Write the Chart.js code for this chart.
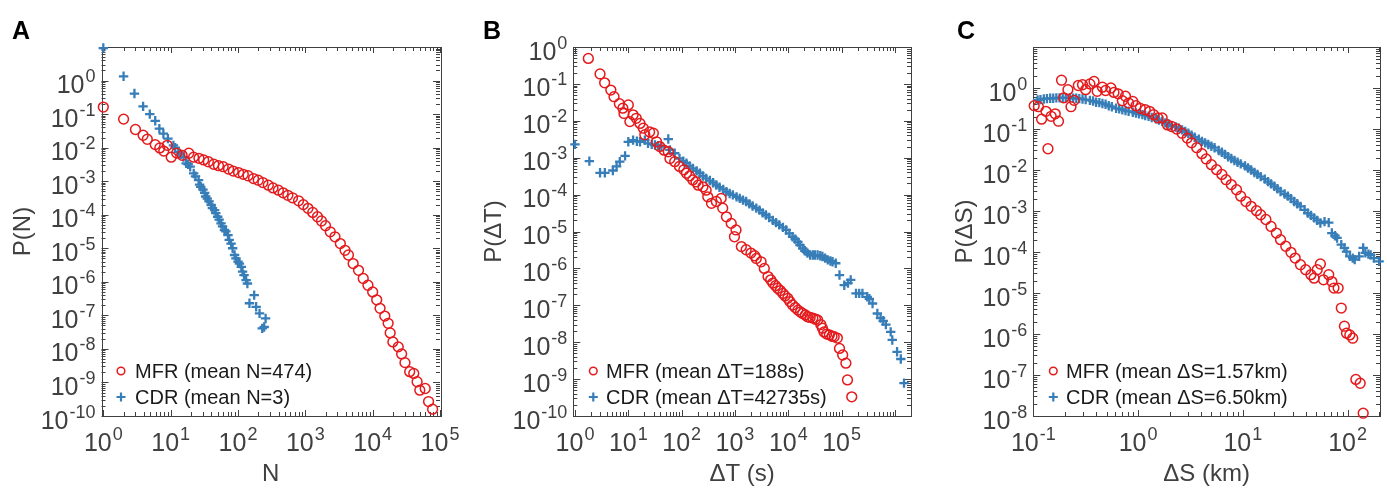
<!DOCTYPE html>
<html><head><meta charset="utf-8">
<script src="https://cdn.jsdelivr.net/npm/chart.js@4.4.0/dist/chart.umd.min.js"></script>
<style>
html,body{margin:0;padding:0;background:#fff;}
#wrap{position:relative;width:1387px;height:489px;overflow:hidden;background:#fff;}
.panel{position:absolute;top:0;height:489px;}
.letter{position:absolute;font:bold 25px "Liberation Sans",Arial,Helvetica,sans-serif;color:#000;line-height:25px;}
</style></head><body>
<div id="wrap">
  <div class="panel" style="left:0;width:460px"><canvas id="cA" width="460" height="489"></canvas></div>
  <div class="panel" style="left:460px;width:460px"><canvas id="cB" width="460" height="489"></canvas></div>
  <div class="panel" style="left:920px;width:467px"><canvas id="cC" width="467" height="489"></canvas></div>
  <div class="letter" style="left:12px;top:18px">A</div>
  <div class="letter" style="left:483px;top:18px">B</div>
  <div class="letter" style="left:957px;top:18px">C</div>
</div>
<script>
// ---------------- DATA ----------------
// Panel A: P(N)
const A_MFR = [[1,0.162],[2.0,0.0708],[3.0,0.0347],[3.9,0.0234],[4.5,0.0178],[5.9,0.0123],[6.9,0.0098],[7.9,0.0079],[8.9,0.0117],[10.2,0.0052],[12.3,0.0069],[14.8,0.0059],[18.6,0.0068],[21.9,0.0052],[26.3,0.0048],[30.9,0.0043],[36.3,0.0038],[43.7,0.0032],[51.3,0.0029],[60.3,0.0027],[72.4,0.0023],[85.1,0.0020],[102,0.0018],[120,0.0016],[141,0.00145],[170,0.0012],[200,0.00107],[234,9.1e-4],[282,7.6e-4],[331,6.3e-4],[398,5.4e-4],[468,4.5e-4],[550,3.8e-4],[646,3.2e-4],[794,2.6e-4],[933,2.0e-4],[1096,1.55e-4],[1288,1.17e-4],[1514,8.7e-5],[1738,6.5e-5],[1995,4.7e-5],[2344,3.1e-5],[2754,2.2e-5],[3311,1.38e-5],[3890,8.7e-6],[4365,6.3e-6],[5129,3.5e-6],[6166,2.2e-6],[7244,1.26e-6],[8511,7.9e-7],[10000,5.0e-7],[11482,2.9e-7],[12882,1.62e-7],[15136,9.5e-8],[16982,5.8e-8],[18197,3.0e-8],[19953,1.62e-8],[23988,1.15e-8],[26915,7.1e-9],[30200,3.9e-9],[35481,2.1e-9],[40738,1.86e-9],[45709,1.05e-9],[50119,5.9e-10],[60256,6.6e-10],[67608,2.7e-10],[77625,1.6e-10]];
const A_CDR = [[1,9.3],[2,1.34],[2.9,0.41],[3.9,0.17],[4.9,0.10],[5.9,0.063],[6.8,0.037],[7.8,0.026],[9.1,0.0186],[11,0.0117],[11.7,0.01],[13,0.0074],[14.1,0.0063],[15.5,0.0052],[17,0.0034],[18.2,0.0032],[19.5,0.0027],[22,0.0017],[23.4,0.0014],[26,0.00107],[26.9,7.9e-4],[28,6.8e-4],[30.2,5.6e-4],[32,4.5e-4],[33.1,3.5e-4],[35,3.0e-4],[37.2,2.5e-4],[40,1.95e-4],[41.7,1.58e-4],[45,1.38e-4],[46.8,1.12e-4],[50,8.7e-5],[52.5,7.1e-5],[56,5.5e-5],[58.9,4.5e-5],[63,3.5e-5],[66.1,3.2e-5],[71,2.45e-5],[74.1,1.78e-5],[79,1.38e-5],[83.2,1.0e-5],[89,6.3e-6],[93.3,5.0e-6],[100,4.0e-6],[105,3.5e-6],[112,2.8e-6],[117,2.0e-6],[123,1.58e-6],[132,1.12e-6],[138,8.9e-7],[148,2.3e-7],[174,4.0e-7],[186,1.8e-7],[209,1.15e-7],[229,4.1e-8],[245,4.5e-8],[257,8.1e-8]];
// Panel B: P(ΔT)
const B_MFR = [[1.78,0.49],[2.95,0.186],[3.6,0.107],[4.7,0.068],[5.4,0.045],[6.8,0.029],[7.9,0.022],[8.3,0.0158],[10,0.027],[10.7,0.0095],[12.3,0.0145],[14.1,0.0117],[16.6,0.0085],[19.1,0.0063],[20.4,0.0042],[25.1,0.0050],[29.5,0.0046],[33.9,0.0027],[38.9,0.0020],[46.8,0.0016],[56.2,0.00145],[60.3,9.5e-4],[74.1,7.8e-4],[91.2,5.8e-4],[110,4.7e-4],[123,3.8e-4],[141,3.2e-4],[162,2.5e-4],[186,2.2e-4],[204,1.8e-4],[251,1.62e-4],[288,1.32e-4],[309,8.7e-5],[363,5.8e-5],[447,6.5e-5],[550,7.9e-5],[589,4.3e-5],[692,2.5e-5],[851,1.66e-5],[977,7.2e-6],[1047,1.1e-5],[1318,3.9e-6],[1622,3.2e-6],[1995,2.6e-6],[2344,2.2e-6],[2512,1.86e-6],[3090,1.51e-6],[3548,1.0e-6],[4169,6.0e-7],[4677,4.9e-7],[5129,4.0e-7],[5754,3.4e-7],[6310,2.9e-7],[7079,2.5e-7],[7943,2.1e-7],[8710,1.8e-7],[9772,1.55e-7],[10715,1.26e-7],[12023,1.02e-7],[13490,8.7e-8],[15136,7.4e-8],[16982,6.6e-8],[18621,6.0e-8],[20893,5.5e-8],[22909,4.9e-8],[25704,4.7e-8],[28840,4.5e-8],[32359,4.2e-8],[35481,4.0e-8],[40738,3.0e-8],[43652,2.4e-8],[46774,1.9e-8],[52481,1.66e-8],[58884,1.58e-8],[66069,1.45e-8],[72444,1.41e-8],[83176,1.29e-8],[91201,6.8e-9],[104713,4.5e-9],[120226,2.7e-9],[128825,9.5e-10],[154882,3.3e-10]];
const B_CDR = [[1,2.3e-3],[1.86,8.1e-4],[2.95,3.9e-4],[3.63,3.9e-4],[5.13,4.5e-4],[6.03,5.8e-4],[6.92,7.8e-4],[8.7,1.12e-3],[10,2.7e-3],[12.3,3.0e-3],[14.5,2.8e-3],[16.6,2.7e-3],[20.4,3.0e-3],[23.4,2.45e-3],[27.5,2.3e-3],[31.6,2.2e-3],[36.3,2.1e-3],[41.7,2.0e-3],[56.2,3.2e-3],[60.3,1.62e-3],[74.1,1.32e-3],[91.2,9.5e-4],[107,8.1e-4],[123,7.1e-4],[141,6.0e-4],[162,5.1e-4],[191,4.4e-4],[219,3.8e-4],[251,3.2e-4],[288,2.75e-4],[339,2.4e-4],[389,2.1e-4],[447,1.82e-4],[513,1.58e-4],[603,1.38e-4],[692,1.2e-4],[794,1.07e-4],[912,9.8e-5],[1072,8.7e-5],[1230,7.9e-5],[1413,7.1e-5],[1622,6.5e-5],[1862,5.6e-5],[2138,4.9e-5],[2512,4.3e-5],[2884,3.8e-5],[3311,3.2e-5],[3802,2.8e-5],[4365,2.4e-5],[5129,2.0e-5],[5888,1.74e-5],[6761,1.51e-5],[7943,1.29e-5],[9120,1.1e-5],[10471,8.9e-6],[12023,7.2e-6],[13490,6.2e-6],[15136,5.2e-6],[16596,4.3e-6],[18621,3.5e-6],[20417,3.0e-6],[22909,2.6e-6],[25704,2.3e-6],[28840,2.3e-6],[31623,2.3e-6],[35481,2.3e-6],[39811,2.2e-6],[43652,2.1e-6],[48978,1.9e-6],[54954,1.7e-6],[61660,1.58e-6],[67608,1.51e-6],[77625,1.38e-6],[91201,6.6e-7],[112202,3.5e-7],[131826,4.0e-7],[147911,4.9e-7],[186209,2.1e-7],[213796,2.1e-7],[245471,2.1e-7],[301995,1.7e-7],[331131,1.5e-7],[380189,1.12e-7],[467735,6.0e-8],[537032,4.5e-8],[602560,3.8e-8],[676083,3.0e-8],[831764,1.9e-8],[891251,1.15e-8],[1096478,5.5e-9],[1288250,3.5e-9],[1479108,7.8e-10]];
// Panel C: P(ΔS)
const C_MFR = [[0.102,0.37],[0.112,0.35],[0.120,0.174],[0.132,0.27],[0.138,0.033],[0.148,0.204],[0.162,0.234],[0.174,0.155],[0.186,1.55],[0.195,0.575],[0.214,0.91],[0.229,0.35],[0.245,0.50],[0.269,1.15],[0.295,1.2],[0.316,0.91],[0.347,1.26],[0.380,1.45],[0.407,0.83],[0.457,1.05],[0.490,0.87],[0.55,1.0],[0.589,0.78],[0.646,0.72],[0.708,0.49],[0.759,0.63],[0.813,0.43],[0.891,0.47],[0.955,0.37],[1.05,0.32],[1.17,0.295],[1.29,0.27],[1.41,0.224],[1.55,0.186],[1.70,0.186],[1.91,0.126],[2.09,0.115],[2.34,0.100],[2.63,0.079],[2.95,0.060],[3.24,0.046],[3.63,0.035],[4.07,0.025],[4.47,0.0186],[5.01,0.0135],[5.62,0.0102],[6.31,0.0078],[6.92,0.0058],[7.76,0.0044],[8.71,0.0033],[9.55,0.0023],[10.7,0.0017],[12.0,0.0013],[13.5,0.00102],[14.8,8.1e-4],[16.6,6.2e-4],[18.6,4.2e-4],[20.9,2.9e-4],[22.9,2.0e-4],[25.7,1.38e-4],[28.8,9.8e-5],[31.6,7.1e-5],[35.5,4.9e-5],[39.8,3.7e-5],[44.7,2.8e-5],[47.9,2.3e-5],[51.3,3.7e-5],[55.0,5.1e-5],[58.9,2.1e-5],[66.1,2.8e-5],[70.8,1.9e-5],[74.1,1.32e-5],[81.3,1.32e-5],[87.1,4.3e-6],[93.3,1.55e-6],[97.7,1.05e-6],[105,9.5e-7],[112,7.9e-7],[120,7.8e-8],[132,6.3e-8],[141,1.17e-8]];
const C_CDR = [[0.110,0.51],[0.117,0.52],[0.126,0.54],[0.135,0.55],[0.145,0.56],[0.155,0.56],[0.166,0.575],[0.178,0.575],[0.191,0.575],[0.204,0.575],[0.224,0.575],[0.240,0.56],[0.257,0.56],[0.275,0.55],[0.295,0.54],[0.316,0.52],[0.347,0.50],[0.372,0.48],[0.398,0.45],[0.427,0.44],[0.457,0.42],[0.490,0.40],[0.525,0.37],[0.562,0.35],[0.617,0.32],[0.661,0.31],[0.708,0.295],[0.759,0.28],[0.813,0.27],[0.891,0.257],[0.955,0.245],[1.02,0.234],[1.10,0.224],[1.17,0.214],[1.26,0.204],[1.35,0.19],[1.48,0.178],[1.58,0.166],[1.70,0.155],[1.82,0.141],[1.95,0.132],[2.09,0.12],[2.29,0.112],[2.45,0.105],[2.63,0.095],[2.82,0.087],[3.02,0.079],[3.24,0.071],[3.47,0.063],[3.80,0.056],[4.07,0.050],[4.37,0.046],[4.68,0.042],[5.01,0.038],[5.37,0.035],[5.89,0.030],[6.31,0.027],[6.76,0.024],[7.24,0.021],[7.76,0.019],[8.32,0.017],[8.91,0.0155],[9.55,0.0141],[10.5,0.0126],[11.2,0.0112],[12.0,0.0100],[12.9,0.0087],[13.8,0.0078],[14.8,0.0069],[16.2,0.0060],[17.4,0.0052],[18.6,0.0046],[20.0,0.0040],[21.4,0.0035],[22.9,0.0030],[25.1,0.0026],[26.9,0.0023],[28.8,0.0020],[30.9,0.0017],[33.1,0.0015],[35.5,0.0013],[38.9,0.00107],[41.7,8.9e-4],[44.7,7.8e-4],[47.9,6.8e-4],[51.3,5.9e-4],[55.0,5.1e-4],[60.3,5.5e-4],[66.1,5.2e-4],[70.8,2.9e-4],[75.9,2.5e-4],[79.4,2.2e-4],[87.1,1.51e-4],[93.3,1.26e-4],[97.7,1.02e-4],[105,7.8e-5],[112,7.1e-5],[117,6.5e-5],[129,7.8e-5],[141,1.26e-4],[148,9.5e-5],[158,8.9e-5],[166,8.5e-5],[178,7.1e-5],[200,5.9e-5]];

// legend labels
const A_LABELS = ['MFR (mean N=474)', 'CDR (mean N=3)'];
const B_LABELS = ['MFR (mean \u0394T=188s)', 'CDR (mean \u0394T=42735s)'];
const C_LABELS = ['MFR (mean \u0394S=1.57km)', 'CDR (mean \u0394S=6.50km)'];
// axis titles
const A_TITLES = ['N', 'P(N)'];
const B_TITLES = ['\u0394T (s)', 'P(\u0394T)'];
const C_TITLES = ['\u0394S (km)', 'P(\u0394S)'];
// labelled decades (tick labels 10^k)
const A_XTICK_EXP = [0,1,2,3,4,5];
const A_YTICK_EXP = [-10,-9,-8,-7,-6,-5,-4,-3,-2,-1,0];
const B_XTICK_EXP = [0,1,2,3,4,5];
const B_YTICK_EXP = [-10,-9,-8,-7,-6,-5,-4,-3,-2,-1,0];
const C_XTICK_EXP = [-1,0,1,2];
const C_YTICK_EXP = [-8,-7,-6,-5,-4,-3,-2,-1,0];

// ---------------- STYLE ----------------
const FONT = '"Liberation Sans", Arial, Helvetica, sans-serif';
const RED = '#e41a1c';
const BLUE = '#377eb8';
const AXIS = '#404040';
const TICKTXT = '#404040';
const MAIN_PX = 25, EXP_PX = 18;

function drawPow(ctx, k, x, y, align) {
  const base = '10', ex = String(k);
  ctx.font = MAIN_PX + 'px ' + FONT; const wb = ctx.measureText(base).width;
  ctx.font = EXP_PX + 'px ' + FONT; const we = ctx.measureText(ex).width;
  const w = wb + 1 + we;
  const x0 = align === 'center' ? x - w / 2 : x - w;
  ctx.font = MAIN_PX + 'px ' + FONT; ctx.fillText(base, x0, y);
  ctx.font = EXP_PX + 'px ' + FONT; ctx.fillText(ex, x0 + wb + 1, y - 11);
}

const matAxes = {
  id: 'matAxes',
  beforeDatasetsDraw(chart) {
    const o = chart.options.plugins.matAxes;
    const {ctx, chartArea: {left, right, top, bottom}, scales: {x, y}} = chart;
    ctx.save();
    ctx.strokeStyle = AXIS; ctx.lineWidth = 1;
    ctx.beginPath();
    const inRange = (v, s) => v >= s.min * 0.9999 && v <= s.max * 1.0001;
    for (let k = Math.floor(Math.log10(x.min)); k <= Math.ceil(Math.log10(x.max)); k++) {
      for (let m = 1; m <= 9; m++) {
        const v = m * Math.pow(10, k);
        if (!inRange(v, x)) continue;
        const p = Math.round(x.getPixelForValue(v)) + 0.5;
        const len = m === 1 ? 6 : 4;
        ctx.moveTo(p, bottom); ctx.lineTo(p, bottom - len);
        ctx.moveTo(p, top); ctx.lineTo(p, top + len);
      }
    }
    for (let k = Math.floor(Math.log10(y.min)); k <= Math.ceil(Math.log10(y.max)); k++) {
      for (let m = 1; m <= 9; m++) {
        const v = m * Math.pow(10, k);
        if (!inRange(v, y)) continue;
        const p = Math.round(y.getPixelForValue(v)) + 0.5;
        const len = m === 1 ? 7 : 4;
        ctx.moveTo(left, p); ctx.lineTo(left + len, p);
        ctx.moveTo(right, p); ctx.lineTo(right - len, p);
      }
    }
    ctx.stroke();
    ctx.strokeRect(Math.round(left) + 0.5, Math.round(top) + 0.5, Math.round(right - left), Math.round(bottom - top));
    ctx.fillStyle = TICKTXT; ctx.textAlign = 'left'; ctx.textBaseline = 'alphabetic';
    o.xExp.forEach(k => drawPow(ctx, k, x.getPixelForValue(Math.pow(10, k)), bottom + 35, 'center'));
    o.yExp.forEach(k => drawPow(ctx, k, left - 6, y.getPixelForValue(Math.pow(10, k)) + 12.5, 'right'));
    ctx.restore();
  }
};

const matLegend = {
  id: 'matLegend',
  afterDatasetsDraw(chart) {
    const o = chart.options.plugins.matLegend;
    const ctx = chart.ctx;
    ctx.save();
    chart.data.datasets.forEach((ds, i) => {
      const yy = o.y0 + i * o.dy;
      ctx.strokeStyle = ds.borderColor;
      ctx.beginPath();
      if (ds.pointStyle === 'circle') {
        ctx.lineWidth = 1.5;
        ctx.arc(o.mx, yy, 3.8, 0, Math.PI * 2);
      } else {
        ctx.lineWidth = 2.2;
        ctx.moveTo(o.mx - 4.5, yy); ctx.lineTo(o.mx + 4.5, yy);
        ctx.moveTo(o.mx, yy - 4.5); ctx.lineTo(o.mx, yy + 4.5);
      }
      ctx.stroke();
      ctx.fillStyle = '#1a1a1a';
      ctx.font = '20px ' + FONT;
      ctx.textAlign = 'left'; ctx.textBaseline = 'middle';
      ctx.fillText(ds.label, o.tx, yy + 1);
    });
    ctx.restore();
  }
};

const toPts = arr => arr.map(p => ({x: p[0], y: p[1]}));

function makeChart(id, c) {
  return new Chart(document.getElementById(id), {
    type: 'scatter',
    data: {
      datasets: [
        {label: c.labels[0], data: toPts(c.mfr), pointStyle: 'circle', pointRadius: 4.9, pointHoverRadius: 4.9,
         borderColor: RED, backgroundColor: 'rgba(0,0,0,0)', borderWidth: 1.5, clip: false},
        {label: c.labels[1], data: toPts(c.cdr), pointStyle: 'cross', pointRadius: 4.7, pointHoverRadius: 4.7,
         borderColor: BLUE, backgroundColor: BLUE, borderWidth: 2.3, clip: false}
      ]
    },
    options: {
      responsive: false, animation: false, devicePixelRatio: 1, events: [],
      layout: {padding: {left: 0, right: c.padR, top: 47, bottom: 0}},
      plugins: {
        legend: {display: false}, tooltip: {enabled: false},
        matAxes: {xExp: c.xExp, yExp: c.yExp},
        matLegend: {mx: c.legMx, tx: c.legTx, y0: 371, dy: 26}
      },
      scales: {
        x: {type: 'logarithmic', position: 'bottom', min: c.xmin, max: c.xmax,
            ticks: {display: false}, grid: {display: false}, border: {display: false},
            title: {display: true, text: c.titles[0], color: TICKTXT, font: {family: FONT, size: 24}, padding: {top: 0, bottom: 0}},
            afterFit(s) { s.height = 73; }},
        y: {type: 'logarithmic', position: 'left', min: c.ymin, max: c.ymax,
            ticks: {display: false}, grid: {display: false}, border: {display: false},
            title: {display: true, text: c.titles[1], color: TICKTXT, font: {family: FONT, size: 24}, padding: {top: c.yTitlePad, bottom: 0}},
            afterFit(s) { s.width = c.yw; }}
      }
    },
    plugins: [matAxes, matLegend]
  });
}

makeChart('cA', {mfr: A_MFR, cdr: A_CDR, labels: A_LABELS, titles: A_TITLES, xExp: A_XTICK_EXP, yExp: A_YTICK_EXP,
  xmin: 0.94, xmax: 1e5, ymin: 1e-10, ymax: 1e1, padR: 20, yw: 101.5, yTitlePad: 8.6, legMx: 121, legTx: 135});
makeChart('cB', {mfr: B_MFR, cdr: B_CDR, labels: B_LABELS, titles: B_TITLES, xExp: B_XTICK_EXP, yExp: B_YTICK_EXP,
  xmin: 0.93, xmax: 2e6, ymin: 1e-10, ymax: 1e0, padR: 9, yw: 113.3, yTitlePad: 19.8, legMx: 133.3, legTx: 146});
makeChart('cC', {mfr: C_MFR, cdr: C_CDR, labels: C_LABELS, titles: C_TITLES, xExp: C_XTICK_EXP, yExp: C_YTICK_EXP,
  xmin: 0.1, xmax: 204, ymin: 1e-8, ymax: 1e1, padR: 4.3, yw: 113.3, yTitlePad: 31.4, legMx: 133.3, legTx: 146});
</script>
</body></html>
